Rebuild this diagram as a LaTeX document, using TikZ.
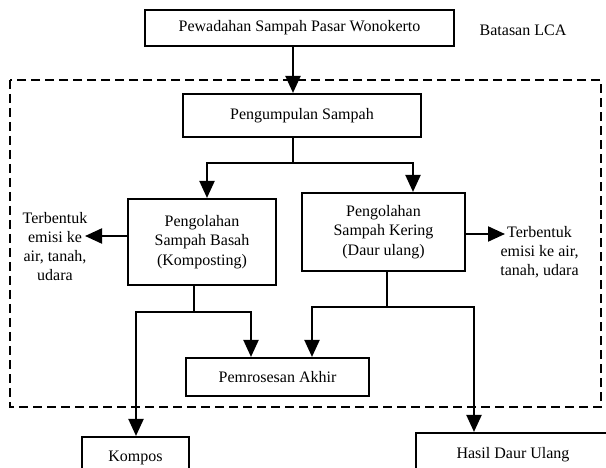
\documentclass[tikz,border=0pt]{standalone}
\usepackage{fontspec}
\setmainfont{Liberation Serif}
\usetikzlibrary{arrows.meta}
\tikzset{
  boxnode/.style={draw, rectangle, line width=2.1pt, inner sep=0pt, align=center,
    font=\fontsize{16}{19.5}\selectfont},
  freetext/.style={inner sep=0pt, align=center, font=\fontsize{16}{19}\selectfont},
  conn/.style={line width=2.1pt},
  arr/.style={conn, -{Triangle[length=17pt,width=15pt]}},
  lcaborder/.style={line width=2pt, dash pattern=on 9pt off 5pt}
}
\begin{document}
\begin{tikzpicture}[x=1pt,y=-1pt]
\useasboundingbox (0,0) rectangle (606,468);
\clip (0,0) rectangle (606,468);
\fill[white] (0,0) rectangle (606,468);

% LCA boundary
\draw[lcaborder] (10,80) rectangle (601,407);

% boxes
\node[boxnode, minimum width=309pt, minimum height=36pt] (top) at (299.5,28) {Pewadahan Sampah Pasar Wonokerto};
\node[freetext, anchor=base] (lca) at (523,35.5) {Batasan LCA};
\node[boxnode, minimum width=238pt, minimum height=43pt] (pu) at (302,115.5) {Pengumpulan Sampah};
\node[boxnode, minimum width=148pt, minimum height=86pt] (basah) at (202,242) {Pengolahan\\Sampah Basah\\(Komposting)};
\node[boxnode, minimum width=163pt, minimum height=78pt] (kering) at (383.5,232) {Pengolahan\\Sampah Kering\\(Daur ulang)};
\node[boxnode, minimum width=183pt, minimum height=38pt] (akhir) at (277.5,377) {Pemrosesan Akhir};
\node[boxnode, minimum width=107pt, minimum height=42pt] (kompos) at (135.5,458) {Kompos};
\node[boxnode, minimum width=194pt, minimum height=44pt] (hasil) at (513,455) {Hasil Daur Ulang};

% emission texts
\node[freetext] (emL) at (55,247) {Terbentuk\\emisi ke\\air, tanah,\\udara};
\node[freetext] (emR) at (539.5,252.5) {Terbentuk\\emisi ke air,\\tanah, udara};

% junction coordinates
\coordinate (c1) at (293,0);
\coordinate (j1) at (293,163);
\coordinate (jl) at (207,163);
\coordinate (jr) at (413,163);
\coordinate (tl) at (85,236);
\coordinate (tr) at (505,234);
\coordinate (bj) at (194,312);
\coordinate (bl) at (136,312);
\coordinate (br) at (251,312);
\coordinate (kj) at (387,307);
\coordinate (kl) at (312,307);
\coordinate (kr) at (474,307);

% connectors
\draw[arr] (top.south -| c1) -- (pu.north -| c1);
\draw[conn] (pu.south -| j1) -- (j1);
\draw[arr] (j1) -| (basah.north -| jl);
\draw[arr] (j1) -| (kering.north -| jr);
\draw[arr] (basah.west |- tl) -- (tl);
\draw[arr] (kering.east |- tr) -- (tr);
\draw[conn] (basah.south -| bj) -- (bj);
\draw[arr] (bj) -| (akhir.north -| br);
\draw[arr] (bj) -| (kompos.north -| bl);
\draw[conn] (kering.south -| kj) -- (kj);
\draw[arr] (kj) -| (akhir.north -| kl);
\draw[arr] (kj) -| (hasil.north -| kr);
\end{tikzpicture}
\end{document}
